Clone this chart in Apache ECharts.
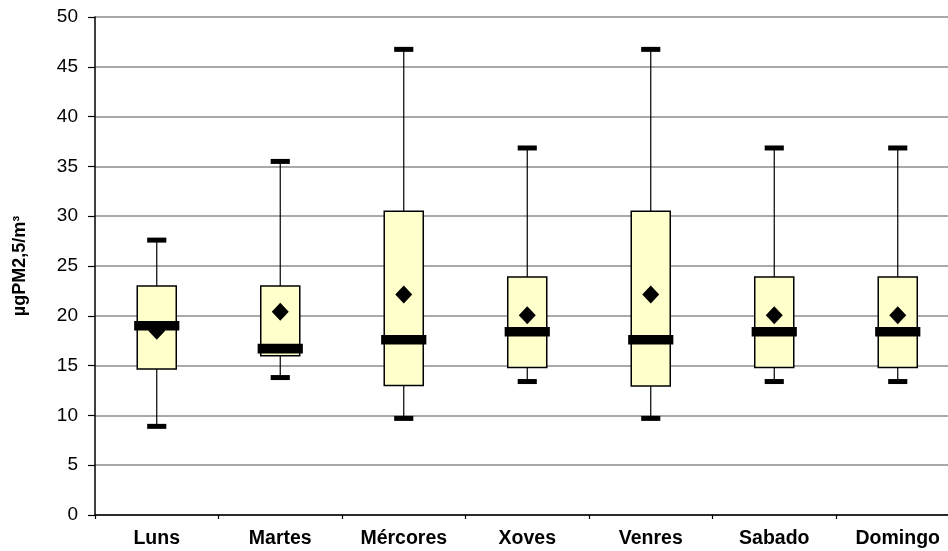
<!DOCTYPE html>
<html>
<head>
<meta charset="utf-8">
<script src="https://cdn.jsdelivr.net/npm/echarts@6/dist/echarts.min.js"></script>
<style>html,body{margin:0;padding:0;background:#fff;}#c{width:948px;height:551px;}</style>
</head>
<body>
<div id="c"></div>
<script>
var categories = ['Luns', 'Martes', 'Mércores', 'Xoves', 'Venres', 'Sabado', 'Domingo'];
var whiskerLow = [8.9, 13.8, 9.7, 13.4, 9.7, 13.4, 13.4];
var q1 = [14.65, 16.0, 13.0, 14.8, 12.95, 14.8, 14.8];
var median = [19.0, 16.7, 17.6, 18.4, 17.6, 18.4, 18.4];
var q3 = [23.0, 23.0, 30.5, 23.9, 30.5, 23.9, 23.9];
var whiskerHigh = [27.6, 35.5, 46.75, 36.85, 46.75, 36.85, 36.85];
var mean = [18.5, 20.4, 22.15, 20.05, 22.15, 20.05, 20.05];
var yTicks = [0, 5, 10, 15, 20, 25, 30, 35, 40, 45, 50];

var boxData = categories.map(function (c, i) {
  return [i, whiskerLow[i], q1[i], median[i], q3[i], whiskerHigh[i]];
});
var meanData = categories.map(function (c, i) { return [i, mean[i]]; });

function renderBox(params, api) {
  var i = api.value(0);
  var band = api.size([1, 0])[0];
  var cx = api.coord([i, 0])[0];
  var pLow = api.coord([i, api.value(1)])[1];
  var pQ1 = api.coord([i, api.value(2)])[1];
  var pMed = api.coord([i, api.value(3)])[1];
  var pQ3 = api.coord([i, api.value(4)])[1];
  var pHigh = api.coord([i, api.value(5)])[1];
  var bw = band * 0.316, mw = band * 0.366, cw = band * 0.155;
  return {
    type: 'group',
    children: [
      { type: 'line', shape: { x1: cx, y1: pHigh, x2: cx, y2: pQ3 }, style: { stroke: '#000', lineWidth: 1.2 } },
      { type: 'line', shape: { x1: cx, y1: pQ1, x2: cx, y2: pLow }, style: { stroke: '#000', lineWidth: 1.2 } },
      { type: 'rect', shape: { x: cx - bw / 2, y: pQ3, width: bw, height: pQ1 - pQ3 }, style: { fill: '#FFFFCC', stroke: '#000', lineWidth: 1.5 } },
      { type: 'rect', shape: { x: cx - mw / 2, y: pMed - 4.8, width: mw, height: 9.6 }, style: { fill: '#000' } },
      { type: 'rect', shape: { x: cx - cw / 2, y: pHigh - 2.5, width: cw, height: 5 }, style: { fill: '#000' } },
      { type: 'rect', shape: { x: cx - cw / 2, y: pLow - 2.5, width: cw, height: 5 }, style: { fill: '#000' } }
    ]
  };
}

var chart = echarts.init(document.getElementById('c'), null, { renderer: 'canvas' });
chart.setOption({
  animation: false,
  backgroundColor: '#fff',
  grid: { left: 95, top: 17, width: 864.5, height: 498, containLabel: false, outerBoundsMode: 'none' },
  xAxis: {
    type: 'category',
    data: categories,
    boundaryGap: true,
    axisLine: { lineStyle: { color: '#000', width: 1.5 } },
    axisTick: { show: true, length: 4, inside: false, lineStyle: { color: '#000', width: 1.2 } },
    axisLabel: { color: '#000', fontFamily: 'Liberation Sans, Arial, sans-serif', fontWeight: 'bold', fontSize: 19.5, margin: 14 },
    splitLine: { show: false }
  },
  yAxis: {
    type: 'value',
    min: 0, max: 50, interval: 5,
    name: 'µgPM2,5/m³',
    nameLocation: 'middle',
    nameRotate: 90,
    nameGap: 66,
    nameTextStyle: { color: '#000', fontFamily: 'Liberation Sans, Arial, sans-serif', fontWeight: 'bold', fontSize: 18 },
    axisLine: { show: true, lineStyle: { color: '#000', width: 1.5 } },
    axisTick: { show: true, length: 7, lineStyle: { color: '#000', width: 1.2 } },
    axisLabel: {
      color: '#000', fontFamily: 'Liberation Sans, Arial, sans-serif', fontSize: 19, margin: 17,
      formatter: function (v) { return yTicks.indexOf(v) >= 0 ? String(v) : ''; }
    },
    splitLine: { show: true, lineStyle: { color: '#8c8c8c', width: 1.5 } }
  },
  series: [
    {
      type: 'custom',
      renderItem: renderBox,
      data: boxData,
      encode: { x: 0, y: [1, 2, 3, 4, 5] },
      z: 2
    },
    {
      type: 'scatter',
      data: meanData,
      symbol: 'diamond',
      symbolSize: [17, 18],
      itemStyle: { color: '#000', opacity: 1 },
      z: 3
    }
  ]
});
</script>
</body>
</html>
